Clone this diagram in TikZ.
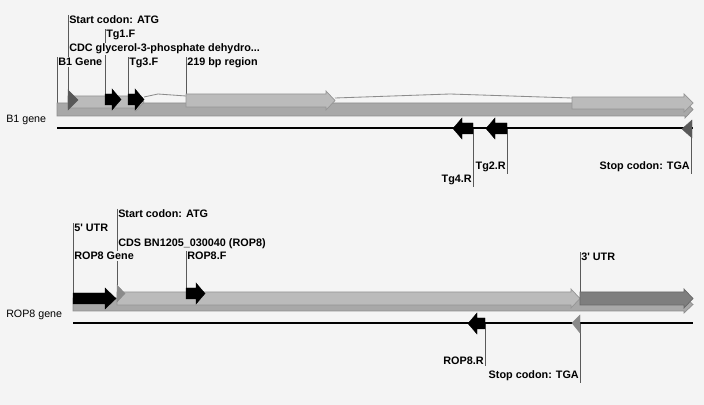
\documentclass[tikz,border=0pt]{standalone}
\usepackage{fontspec}
\setmainfont{Liberation Sans}
\usepackage{xcolor}
\usepackage{tikz}
\usetikzlibrary{
  positioning,
  calc
}
\definecolor{BgGray}{HTML}{F4F4F4}
\definecolor{GeneGray}{HTML}{A8A8A8}
\definecolor{GeneEdge}{HTML}{8E8E8E}
\definecolor{CdsGray}{HTML}{BBBBBB}
\definecolor{CdsEdge}{HTML}{959595}
\definecolor{UtrDark}{HTML}{7E7E7E}
\definecolor{UtrEdge}{HTML}{686868}
\definecolor{CodonDark}{HTML}{585858}
\definecolor{CodonLight}{HTML}{8A8A8A}
\definecolor{LeaderGray}{HTML}{5A5A5A}
\definecolor{IntronGray}{HTML}{8C8C8C}
\tikzset{
  featlabel/.style={
    font=\fontsize{7.7}{9}\selectfont\bfseries,
    fill=BgGray,
    inner sep=0.7pt,
    anchor=base west
  },
  revlabel/.style={
    featlabel,
    anchor=base east
  },
  tracklabel/.style={
    font=\fontsize{7.6}{9}\selectfont,
    inner sep=0pt,
    anchor=base west
  },
  leader/.style={
    draw=LeaderGray,
    line width=0.6pt
  },
  seqline/.style={
    draw=black,
    line width=1pt
  },
  genebar/.style={
    fill=GeneGray,
    draw=GeneEdge,
    line width=0.5pt
  },
  cdsbar/.style={
    fill=CdsGray,
    draw=CdsEdge,
    line width=0.5pt
  },
  utrbar/.style={
    fill=UtrDark,
    draw=UtrEdge,
    line width=0.5pt
  },
  primer/.style={
    fill=black,
    draw=black,
    line width=0.3pt
  },
  codon/.style={
    fill=CodonDark,
    draw=CodonDark,
    line width=0.3pt
  },
  codonlight/.style={
    fill=CodonLight,
    draw=CodonLight,
    line width=0.3pt
  },
  intron/.style={
    draw=IntronGray,
    line width=0.6pt
  }
}
% #1 style, #2 start, #3 tip, #4 top, #5 bottom, #6 head length, #7 head overhang
\newcommand{\fwdshape}[7]{%
  \filldraw[#1] (#2,#4) -- ({#3-#6},#4) -- ({#3-#6},{#4-#7}) --
    (#3,{(#4+#5)/2}) -- ({#3-#6},{#5+#7}) -- ({#3-#6},#5) -- (#2,#5) -- cycle;}
% #1 style, #2 tip, #3 end, #4 top, #5 bottom, #6 head length, #7 head overhang
\newcommand{\revshape}[7]{%
  \filldraw[#1] (#3,#4) -- ({#2+#6},#4) -- ({#2+#6},{#4-#7}) --
    (#2,{(#4+#5)/2}) -- ({#2+#6},{#5+#7}) -- ({#2+#6},#5) -- (#3,#5) -- cycle;}

\begin{document}
\begin{tikzpicture}[
  x=0.025cm,
  y=-0.025cm
]

  \fill[BgGray] (0,0) rectangle (704,405);

  % B1 track
  \coordinate (b1left) at (57,128);
  \coordinate (b1right) at (693,128);
  \coordinate (b1start) at (68,90);
  \coordinate (b1cds) at (68,96);
  \coordinate (b1gene) at (57,103);
  \coordinate (tg1f) at (105,94);
  \coordinate (tg3f) at (128,94);
  \coordinate (region) at (186,94);
  \coordinate (tg2r) at (507,128);
  \coordinate (tg4r) at (473,128);
  \coordinate (b1stop) at (691,128);

  \node[tracklabel] (b1track) at (6,123) {B1 gene};

  % labels from top to bottom, each hides the leaders above it
  \node[featlabel] (b1startlbl) at (68,24) {Start codon: ATG};
  \draw[leader] (b1startlbl.north west) -- (b1start);
  \node[featlabel] (tg1flbl) at (105,38) {Tg1.F};
  \draw[leader] (tg1flbl.north west) -- (tg1f);
  \node[featlabel] (b1cdslbl) at (68,52) {CDC glycerol-3-phosphate dehydro...};
  \draw[leader] (b1cdslbl.north west) -- (b1cds);
  \node[featlabel] (b1genelbl) at (57,66) {B1 Gene};
  \draw[leader] (b1genelbl.north west) -- (b1gene);
  \node[featlabel] (tg3flbl) at (128,66) {Tg3.F};
  \draw[leader] (tg3flbl.north west) -- (tg3f);
  \node[featlabel] (regionlbl) at (186,66) {219 bp region};
  \draw[leader] (regionlbl.north west) -- (region);

  \node[revlabel] (tg2rlbl) at (507,170) {Tg2.R};
  \node[revlabel] (tg4rlbl) at (473,183) {Tg4.R};
  \node[revlabel] (b1stoplbl) at (691,170) {Stop codon: TGA};
  \draw[leader] (tg2r) -- (tg2rlbl.south east);
  \draw[leader] (tg4r) -- (tg4rlbl.south east);
  \draw[leader] (b1stop) -- (b1stoplbl.south east);

  \fwdshape{genebar}{57}{693}{103}{116}{8}{2}
  \fwdshape{cdsbar}{68}{144}{96}{108}{8}{3}
  \fwdshape{cdsbar}{186}{335}{94}{107}{9}{3}
  \fwdshape{cdsbar}{572}{693}{97}{109}{9}{3}
  \draw[intron] (144,97) -- (158,94) -- (186,96);
  \draw[intron] (335,98) -- (450,94) -- (572,98);

  \filldraw[codon] (b1start) -- (78,100) -- (68,110) -- cycle;
  \fwdshape{primer}{105}{121}{94}{105}{9}{5}
  \fwdshape{primer}{128}{144}{94}{105}{9}{5}

  \draw[seqline] (b1left) -- (b1right);
  \revshape{primer}{453}{473}{123}{134}{9}{5}
  \revshape{primer}{486}{507}{123}{134}{9}{5}
  \filldraw[codon] (682,129) -- (692,120) -- (692,138) -- cycle;

  % ROP8 track
  \coordinate (r8left) at (73,323);
  \coordinate (r8right) at (693,323);
  \coordinate (r8start) at (117,285);
  \coordinate (r8cds) at (117,292);
  \coordinate (utr5) at (73,293);
  \coordinate (r8gene) at (73,298);
  \coordinate (r8f) at (186,288);
  \coordinate (utr3) at (580,292);
  \coordinate (r8r) at (485,323);
  \coordinate (r8stop) at (580,323);

  \node[tracklabel] (r8track) at (6,318) {ROP8 gene};

  \node[featlabel] (r8startlbl) at (117,218) {Start codon: ATG};
  \draw[leader] (r8startlbl.north west) -- (r8start);
  \node[featlabel] (utr5lbl) at (73,232) {5{\textquotesingle} UTR};
  \draw[leader] (utr5lbl.north west) -- (utr5);
  \node[featlabel] (r8cdslbl) at (117,247) {CDS BN1205\_030040 (ROP8)};
  \draw[leader] (r8cdslbl.north west) -- (r8cds);
  \node[featlabel] (r8genelbl) at (73,260) {ROP8 Gene};
  \draw[leader] (r8genelbl.north west) -- (r8gene);
  \node[featlabel] (r8flbl) at (186,260) {ROP8.F};
  \draw[leader] (r8flbl.north west) -- (r8f);
  \node[featlabel] (utr3lbl) at (580,261) {3{\textquotesingle} UTR};
  \draw[leader] (utr3lbl.north west) -- (utr3);

  \node[revlabel] (r8rlbl) at (485,365) {ROP8.R};
  \node[revlabel] (r8stoplbl) at (580,379) {Stop codon: TGA};
  \draw[leader] (r8r) -- (r8rlbl.south east);
  \draw[leader] (r8stop) -- (r8stoplbl.south east);

  \fwdshape{genebar}{73}{693}{298}{311}{9}{2}
  \fwdshape{cdsbar}{117}{580}{292}{305}{9}{3}
  \fwdshape{utrbar}{580}{693}{292}{305}{9}{3}
  \fwdshape{primer}{73}{116}{293}{304}{11}{5}
  \filldraw[codonlight] (r8start) -- (125,293.5) -- (117,302) -- cycle;
  \fwdshape{primer}{186}{205}{288}{299}{9}{5}

  \draw[seqline] (r8left) -- (r8right);
  \revshape{primer}{468}{485}{318}{329}{9}{5}
  \filldraw[codonlight] (572,323) -- (580,315) -- (580,333) -- cycle;

\end{tikzpicture}
\end{document}
